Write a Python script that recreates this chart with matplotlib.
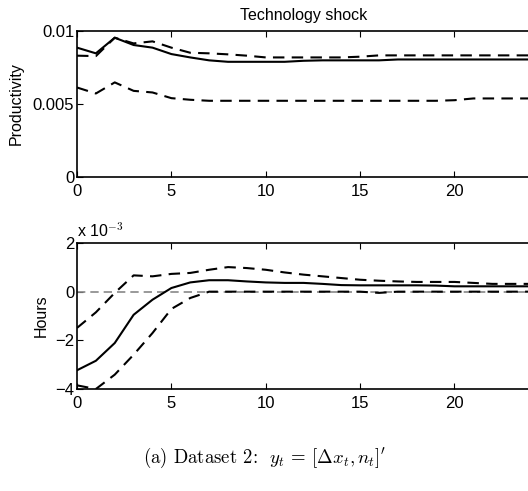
import matplotlib
matplotlib.use("Agg")
import matplotlib.pyplot as plt
import numpy as np

plt.rcParams['font.family'] = ['Liberation Sans', 'DejaVu Sans']
plt.rcParams['mathtext.fontset'] = 'cm'

horizon = list(range(25))

# Productivity response (levels)
prod_median = [0.00886, 0.00847, 0.00954, 0.00904, 0.00886, 0.00842, 0.00819, 0.00799, 0.00789,
               0.00789, 0.00789, 0.00789, 0.00796, 0.00799, 0.00799, 0.00799, 0.00799, 0.00805,
               0.00805, 0.00805, 0.00805, 0.00805, 0.00805, 0.00805, 0.00805]
prod_upper = [0.00831, 0.00828, 0.00954, 0.00915, 0.00929, 0.00886, 0.00851, 0.00847, 0.00840,
              0.00831, 0.00819, 0.00819, 0.00819, 0.00819, 0.00819, 0.00824, 0.00833, 0.00833,
              0.00833, 0.00833, 0.00833, 0.00833, 0.00833, 0.00833, 0.00833]
prod_lower = [0.00613, 0.00572, 0.00648, 0.00590, 0.00579, 0.00540, 0.00529, 0.00522, 0.00522,
              0.00522, 0.00522, 0.00522, 0.00522, 0.00522, 0.00522, 0.00522, 0.00522, 0.00522,
              0.00522, 0.00522, 0.00526, 0.00538, 0.00538, 0.00538, 0.00538]

# Hours response (in units of 1e-3)
hours_median = [-3.23, -2.84, -2.11, -0.95, -0.33, 0.15, 0.38, 0.47, 0.47, 0.42, 0.38, 0.36, 0.36,
                0.32, 0.27, 0.26, 0.26, 0.26, 0.26, 0.25, 0.22, 0.22, 0.22, 0.22, 0.22]
hours_upper = [-1.49, -0.85, -0.05, 0.67, 0.63, 0.73, 0.77, 0.90, 1.01, 0.97, 0.90, 0.79, 0.70,
               0.63, 0.56, 0.49, 0.45, 0.42, 0.40, 0.40, 0.40, 0.36, 0.32, 0.32, 0.32]
hours_lower = [-3.85, -4.0, -3.41, -2.59, -1.70, -0.71, -0.26, 0.0, 0.0, 0.0, 0.0, 0.0, 0.0,
               0.0, 0.0, 0.0, -0.05, 0.0, 0.0, 0.0, 0.0, 0.0, 0.0, 0.0, 0.0]

W, H = 528, 491
fig = plt.figure(figsize=(W / 100, H / 100), dpi=100)

def px_axes(left, top, right, bottom):
    return fig.add_axes([left / W, 1 - bottom / H, (right - left) / W, (bottom - top) / H])

dash = (0, (5.5, 3.5))

def style(ax):
    ax.tick_params(direction='in', top=True, right=False, labelsize=12, length=4, width=0.8, pad=2)
    ax.tick_params(axis='x', pad=5)
    for s in ax.spines.values():
        s.set_linewidth(1.2)
    ax.set_xlim(0, 24)
    ax.set_xticks([0, 5, 10, 15, 20])

ax1 = px_axes(77, 31, 530, 177)
ax1.plot(horizon, prod_median, color='black', lw=1.5)
ax1.plot(horizon, prod_upper, color='black', lw=1.5, linestyle=dash)
ax1.plot(horizon, prod_lower, color='black', lw=1.5, linestyle=dash)
ax1.set_ylim(0, 0.01)
ax1.set_yticks([0, 0.005, 0.01])
ax1.set_yticklabels(['0', '0.005', '0.01'])
style(ax1)
ax1.set_title('Technology shock', fontsize=11.5, pad=8)
ax1.set_ylabel('Productivity', fontsize=11.5)
ax1.yaxis.set_label_coords(-0.117, 0.5)

ax2 = px_axes(77, 243, 530, 389)
ax2.axhline(0, color='#888888', lw=1.2, linestyle=(0, (5, 3)))
ax2.plot(horizon, hours_median, color='black', lw=1.5)
ax2.plot(horizon, hours_upper, color='black', lw=1.5, linestyle=dash)
ax2.plot(horizon, hours_lower, color='black', lw=1.5, linestyle=dash)
ax2.set_ylim(-4, 2)
ax2.set_yticks([-4, -2, 0, 2])
ax2.set_yticklabels(['\u22124', '\u22122', '0', '2'])
style(ax2)
ax2.set_ylabel('Hours', fontsize=11.5)
ax2.yaxis.set_label_coords(-0.062, 0.5)
ax2.text(0.0, 1.02, r'x 10$^{-3}$', transform=ax2.transAxes, fontsize=11.5,
         ha='left', va='bottom', family='Liberation Sans')

fig.text(265 / W, 1 - 458 / H, r'(a) Dataset 2:  $y_t\,=\,[\Delta x_t, n_t]^{\prime}$',
         ha='center', va='center', fontsize=13.5, family='cmr10')

fig.savefig('out.png', dpi=100)
